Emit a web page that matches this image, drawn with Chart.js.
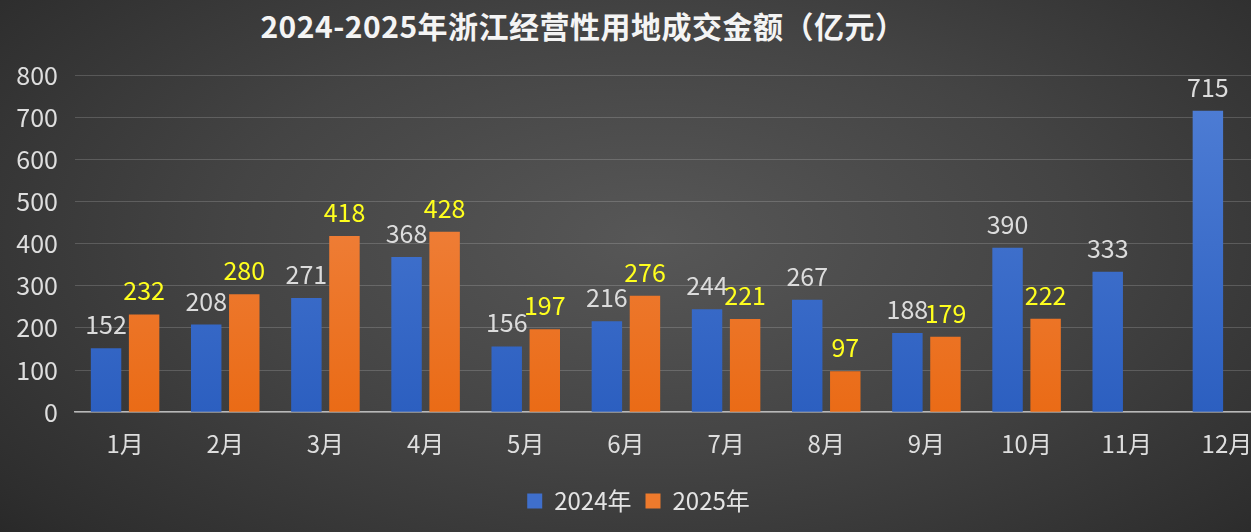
<!DOCTYPE html>
<html>
<head>
<meta charset="utf-8">
<script src="https://cdn.jsdelivr.net/npm/chart.js@4/dist/chart.umd.min.js"></script>
<style>
    html, body { margin: 0; padding: 0; overflow: hidden; }
    body {
        width: 1251px; height: 532px; position: relative;
        background: radial-gradient(ellipse 75% 90% at 52% 45%, #575757 0%, #444 45%, #2e2e2e 85%, #242424 100%);
        font-family: "Noto Sans CJK SC", "Noto Sans", sans-serif;
    }
    #title {
        position: absolute; left: 6px; top: 3px; width: 1154px; text-align: center;
        color: #f4f4f4; font-weight: bold; font-size: 30px; letter-spacing: 0.5px;
    }
    #wrap { position: absolute; left: 0; top: 0; width: 1280px; height: 532px; }
</style>
</head>
<body>
<div id="title">2024-2025年浙江经营性用地成交金额（亿元）</div>
<div id="wrap"><canvas id="chart"></canvas></div>
<script>
// ==========================================
// 데이터
// ==========================================
const months = ['1月', '2月', '3月', '4月', '5月', '6月', '7月', '8月', '9月', '10月', '11月', '12月'];
const seriesNames = ['2024年', '2025年'];
const values2024 = [152, 208, 271, 368, 156, 216, 244, 267, 188, 390, 333, 715];
const values2025 = [232, 280, 418, 428, 197, 276, 221, 97, 179, 222, null, null];
const yTicks = [0, 100, 200, 300, 400, 500, 600, 700, 800];

const FONT = '"Noto Sans CJK SC", "Noto Sans", sans-serif';

// 막대 세로 그라데이션
function barGradient(top, bottom) {
    return (ctx) => {
        const area = ctx.chart.chartArea;
        if (!area) return bottom;
        const g = ctx.chart.ctx.createLinearGradient(0, area.top, 0, area.bottom);
        g.addColorStop(0, top);
        g.addColorStop(1, bottom);
        return g;
    };
}

// 값 라벨 플러그인
const valueLabels = {
    id: 'valueLabels',
    afterDatasetsDraw(chart) {
        const ctx = chart.ctx;
        ctx.save();
        ctx.font = '25px ' + FONT;
        ctx.textAlign = 'center';
        ctx.textBaseline = 'bottom';
        chart.data.datasets.forEach((ds, i) => {
            const meta = chart.getDatasetMeta(i);
            ctx.fillStyle = ds.labelColor;
            meta.data.forEach((bar, j) => {
                const v = ds.data[j];
                if (v === null || v === undefined) return;
                ctx.fillText(String(v), bar.x, bar.y - 11);
            });
        });
        ctx.restore();
    }
};

new Chart(document.getElementById('chart'), {
    type: 'bar',
    data: {
        labels: months,
        datasets: [
            {
                label: seriesNames[0], data: values2024,
                backgroundColor: barGradient('#507fd6', '#2c5fc0'),
                solid: '#3f6fcc', labelColor: '#dcdcdc'
            },
            {
                label: seriesNames[1], data: values2025,
                backgroundColor: barGradient('#f28c50', '#ea6b16'),
                solid: '#ee7a2c', labelColor: '#ffff1e'
            }
        ]
    },
    options: {
        animation: false,
        responsive: true,
        maintainAspectRatio: false,
        layout: { padding: { top: 75, right: 3, bottom: 9, left: 0 } },
        datasets: { bar: { categoryPercentage: 0.76, barPercentage: 0.8 } },
        plugins: {
            title: { display: false },
            tooltip: { enabled: false },
            legend: {
                position: 'bottom',
                labels: {
                    color: '#e4e4e4',
                    font: { size: 24, family: FONT },
                    boxWidth: 15, boxHeight: 15,
                    padding: 14,
                    generateLabels: (chart) => chart.data.datasets.map((ds, i) => ({
                        text: ds.label, fillStyle: ds.solid, strokeStyle: ds.solid,
                        lineWidth: 0, fontColor: '#e4e4e4', datasetIndex: i
                    }))
                }
            }
        },
        scales: {
            x: {
                grid: { display: false, drawTicks: false },
                border: { color: '#b8b8b8', width: 1.5 },
                ticks: { color: '#dedede', font: { size: 24, family: FONT }, padding: 17 }
            },
            y: {
                min: 0, max: 800,
                afterBuildTicks: (s) => { s.ticks = yTicks.map(v => ({ value: v })); },
                afterFit: (s) => { s.width = 75; },
                grid: { color: 'rgba(255,255,255,0.17)', drawTicks: false },
                border: { display: false },
                ticks: { color: '#dedede', font: { size: 25, family: FONT }, padding: 17 }
            }
        }
    },
    plugins: [valueLabels]
});
</script>
</body>
</html>
